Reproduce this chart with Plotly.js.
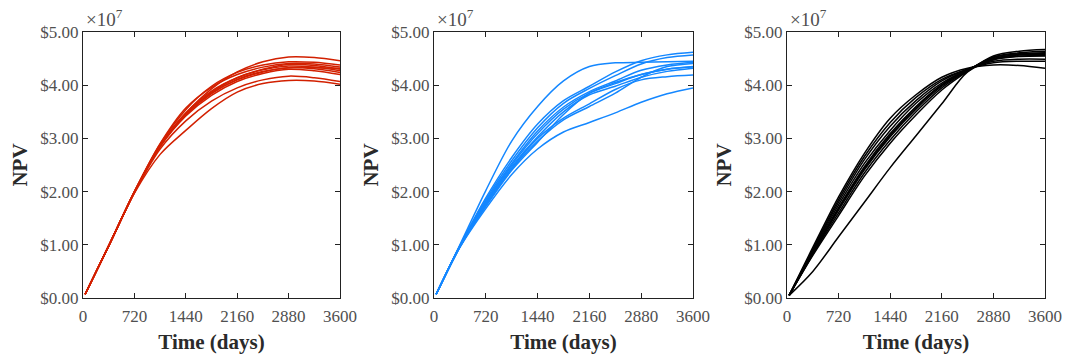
<!DOCTYPE html>
<html>
<head>
<meta charset="utf-8">
<script src="https://cdn.plot.ly/plotly-3.0.1.min.js"></script>
<style>
  html, body { margin: 0; padding: 0; background: #fff; }
  #chart { width: 1065px; height: 356px; }
</style>
</head>
<body>
<div id="chart"></div>
<script>
// Simulation time (days) at which NPV is sampled
const days = [30, 360, 720, 1080, 1440, 1800, 2160, 2520, 2880, 3240, 3600];

// NPV in units of 1e7 dollars, one row per realization
const npvRed = [
  [0.07, 0.98, 1.99, 2.86, 3.47, 3.93, 4.25, 4.44, 4.53, 4.52, 4.46],
  [0.07, 0.98, 2.00, 2.89, 3.54, 3.98, 4.24, 4.38, 4.44, 4.43, 4.38],
  [0.07, 0.98, 2.00, 2.90, 3.57, 3.96, 4.20, 4.34, 4.41, 4.40, 4.34],
  [0.07, 0.98, 1.99, 2.86, 3.46, 3.87, 4.14, 4.30, 4.39, 4.37, 4.30],
  [0.07, 0.98, 1.99, 2.87, 3.48, 3.89, 4.14, 4.29, 4.36, 4.34, 4.27],
  [0.07, 0.98, 1.99, 2.85, 3.44, 3.84, 4.10, 4.25, 4.33, 4.31, 4.24],
  [0.07, 0.98, 1.99, 2.84, 3.42, 3.81, 4.07, 4.22, 4.30, 4.27, 4.20],
  [0.07, 0.98, 1.99, 2.86, 3.45, 3.85, 4.11, 4.26, 4.33, 4.33, 4.32],
  [0.07, 0.98, 1.98, 2.80, 3.33, 3.70, 3.95, 4.10, 4.17, 4.14, 4.07],
  [0.07, 0.98, 1.97, 2.70, 3.15, 3.56, 3.87, 4.03, 4.09, 4.08, 4.02]
];

const npvBlue = [
  [0.07, 1.00, 2.02, 2.95, 3.60, 4.08, 4.35, 4.42, 4.43, 4.44, 4.45],
  [0.07, 0.98, 1.88, 2.64, 3.27, 3.71, 3.98, 4.25, 4.46, 4.57, 4.62],
  [0.07, 0.98, 1.85, 2.58, 3.20, 3.66, 3.94, 4.18, 4.40, 4.52, 4.57],
  [0.07, 0.97, 1.82, 2.53, 3.14, 3.59, 3.88, 4.08, 4.28, 4.38, 4.43],
  [0.07, 0.97, 1.80, 2.50, 3.09, 3.55, 3.85, 4.03, 4.20, 4.30, 4.35],
  [0.07, 0.97, 1.78, 2.47, 3.03, 3.50, 3.82, 3.98, 4.15, 4.26, 4.32],
  [0.07, 0.96, 1.76, 2.44, 3.00, 3.38, 3.65, 3.92, 4.10, 4.16, 4.19],
  [0.07, 0.96, 1.74, 2.42, 2.95, 3.35, 3.60, 3.85, 4.15, 4.35, 4.41],
  [0.07, 0.96, 1.72, 2.40, 2.93, 3.45, 3.85, 4.05, 4.20, 4.30, 4.34],
  [0.07, 0.95, 1.68, 2.32, 2.80, 3.12, 3.30, 3.48, 3.68, 3.84, 3.95]
];

const npvBlack = [
  [0.05, 0.95, 1.90, 2.72, 3.38, 3.82, 4.15, 4.32, 4.38, 4.37, 4.32],
  [0.05, 0.92, 1.85, 2.66, 3.30, 3.77, 4.11, 4.30, 4.42, 4.45, 4.45],
  [0.05, 0.90, 1.80, 2.60, 3.23, 3.71, 4.08, 4.30, 4.45, 4.49, 4.49],
  [0.05, 0.88, 1.75, 2.53, 3.15, 3.66, 4.04, 4.29, 4.48, 4.54, 4.55],
  [0.05, 0.86, 1.70, 2.47, 3.09, 3.60, 4.01, 4.29, 4.50, 4.57, 4.58],
  [0.05, 0.84, 1.65, 2.41, 3.03, 3.55, 3.98, 4.28, 4.52, 4.59, 4.61],
  [0.05, 0.82, 1.60, 2.35, 2.97, 3.50, 3.95, 4.27, 4.53, 4.61, 4.64],
  [0.05, 0.80, 1.55, 2.29, 2.91, 3.44, 3.91, 4.26, 4.55, 4.64, 4.67],
  [0.05, 0.83, 1.68, 2.44, 3.06, 3.58, 4.00, 4.28, 4.50, 4.58, 4.60],
  [0.05, 0.50, 1.15, 1.80, 2.45, 3.05, 3.65, 4.25, 4.48, 4.55, 4.56]
];

const xTicks = [0, 720, 1440, 2160, 2880, 3600];
const yTicks = [0, 1, 2, 3, 4, 5];

const panels = [
  { runs: npvRed,   color: 'rgb(210,32,0)',   x: 'x',  y: 'y',  dom: [83, 340] },
  { runs: npvBlue,  color: 'rgb(20,135,255)', x: 'x2', y: 'y2', dom: [434, 693] },
  { runs: npvBlack, color: 'rgb(0,0,0)',      x: 'x3', y: 'y3', dom: [787, 1045] }
];

const W = 1065;
const serif = 'Liberation Serif, serif';
const tickFont = { family: serif, size: 17, color: '#505050' };
const titleFont = { family: serif, size: 21, color: '#2a2a2a', weight: 'bold' };

const traces = [];
panels.forEach(p => {
  p.runs.forEach(run => {
    traces.push({
      x: days, y: run, xaxis: p.x, yaxis: p.y,
      type: 'scatter', mode: 'lines',
      line: { color: p.color, width: 1.5, shape: 'spline', smoothing: 0.9 },
      hoverinfo: 'skip', showlegend: false
    });
  });
});

const layout = {
  width: W, height: 356,
  margin: { l: 0, r: 0, t: 32, b: 58 },
  paper_bgcolor: '#fff', plot_bgcolor: '#fff',
  showlegend: false,
  annotations: []
};

panels.forEach((p, i) => {
  const sfx = i === 0 ? '' : String(i + 1);
  layout['xaxis' + sfx] = {
    domain: [p.dom[0] / W, p.dom[1] / W],
    anchor: 'y' + sfx,
    range: [0, 3600], tickvals: xTicks, ticktext: xTicks.map(String),
    ticks: 'inside', ticklen: 5, tickcolor: '#222',
    showline: true, linecolor: '#222', linewidth: 1, mirror: 'ticks',
    showgrid: false, zeroline: false,
    tickfont: tickFont, ticklabelstandoff: 3,
    title: { text: 'Time (days)', font: titleFont, standoff: 8 }
  };
  layout['yaxis' + sfx] = {
    anchor: 'x' + sfx,
    range: [0, 5], tickvals: yTicks, ticktext: yTicks.map(v => '$' + v.toFixed(2)),
    ticks: 'inside', ticklen: 5, tickcolor: '#222',
    showline: true, linecolor: '#222', linewidth: 1, mirror: 'ticks',
    showgrid: false, zeroline: false,
    tickfont: tickFont,
    title: { text: 'NPV', font: titleFont, standoff: 6 }
  };
  // exponent marker above the top-left corner of each panel
  layout.annotations.push({
    xref: 'paper', yref: 'paper',
    x: (p.dom[0] + 1) / W, y: 1, xanchor: 'left', yanchor: 'bottom',
    text: '×10<sup>7</sup>', showarrow: false,
    font: { family: serif, size: 19, color: '#505050' }
  });
});

Plotly.newPlot('chart', traces, layout, { staticPlot: true, displayModeBar: false });
</script>
</body>
</html>
